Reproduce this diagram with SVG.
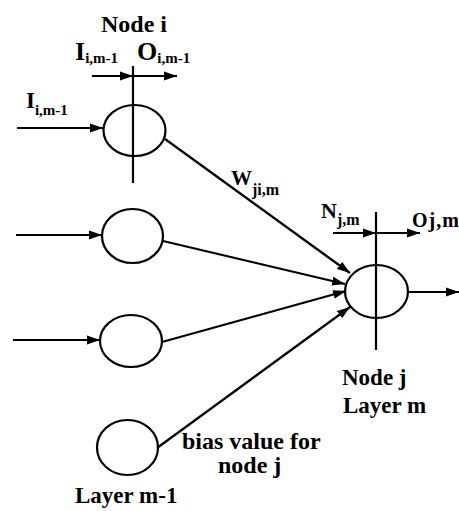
<svg xmlns="http://www.w3.org/2000/svg" width="459" height="511" viewBox="0 0 459 511">
  <defs>
    <marker id="arrow" markerUnits="userSpaceOnUse" markerWidth="14" markerHeight="10" refX="13" refY="5" orient="auto">
      <path d="M0,0.5 L13,5 L0,9.5 Z" fill="#000"/>
    </marker>
    <style>
      .neuron { fill: none; stroke: #000; stroke-width: 2.2; }
      .wire { fill: none; stroke: #000; stroke-width: 2.2; }
      .arrow { marker-end: url(#arrow); }
      .label { font-size: 24px; }
      .big { font-size: 26px; }
      .sub { font-size: 15px; }
    </style>
  </defs>
  <rect width="459" height="511" fill="#fff"/>

  <!-- connectors -->
  <g id="connectors">
    <!-- inputs into layer m-1 -->
    <line class="wire arrow" x1="17" y1="128" x2="103" y2="128"/>
    <line class="wire arrow" x1="16" y1="235" x2="102" y2="235"/>
    <line class="wire arrow" x1="13" y1="340" x2="100" y2="340"/>
    <!-- node i input/output markers -->
    <line class="wire" x1="133" y1="66" x2="133" y2="183"/>
    <line class="wire arrow" x1="92" y1="76" x2="133" y2="76"/>
    <line class="wire arrow" x1="134" y1="76" x2="177" y2="76"/>
    <!-- weighted links into node j -->
    <line class="wire arrow" x1="165" y1="139" x2="350" y2="273"/>
    <line class="wire arrow" x1="163" y1="241" x2="345" y2="284"/>
    <line class="wire arrow" x1="162" y1="342" x2="346" y2="291"/>
    <line class="wire arrow" x1="157" y1="448" x2="350" y2="307"/>
    <!-- node j input/output markers -->
    <line class="wire" x1="376" y1="212" x2="376" y2="350"/>
    <line class="wire arrow" x1="333" y1="233" x2="376" y2="233"/>
    <line class="wire arrow" x1="377" y1="233" x2="420" y2="233"/>
    <line class="wire arrow" x1="408" y1="292" x2="459" y2="292"/>
  </g>

  <g font-family="Liberation Serif" font-weight="bold" fill="#000">
    <!-- layer m-1 -->
    <g id="node-i">
      <ellipse class="neuron" cx="134.5" cy="130.5" rx="31" ry="25.5"/>
      <text class="label" x="101" y="32" font-size="25">Node i</text>
      <text x="75" y="60"><tspan class="big">I</tspan><tspan class="sub" dy="3">i,m-1</tspan></text>
      <text x="137" y="60"><tspan class="big">O</tspan><tspan class="sub" dy="3">i,m-1</tspan></text>
      <text x="26" y="108"><tspan font-size="23">I</tspan><tspan class="sub" dy="7">i,m-1</tspan></text>
    </g>
    <g id="node-2">
      <ellipse class="neuron" cx="132.5" cy="236" rx="30.5" ry="27"/>
    </g>
    <g id="node-3">
      <ellipse class="neuron" cx="131" cy="341" rx="31" ry="26"/>
    </g>
    <g id="node-bias">
      <ellipse class="neuron" cx="127.5" cy="447.5" rx="30.5" ry="27.5"/>
      <text class="label" x="182" y="449">bias value for</text>
      <text class="label" x="218" y="473">node j</text>
    </g>
    <text x="75" y="503" font-size="23">Layer m-1</text>

    <!-- weight label -->
    <text x="231" y="185"><tspan font-size="21">W</tspan><tspan font-size="16" dy="10">ji,m</tspan></text>

    <!-- layer m -->
    <g id="node-j">
      <ellipse class="neuron" cx="376.5" cy="291.5" rx="31.5" ry="26.5"/>
      <text x="321" y="218"><tspan font-size="22">N</tspan><tspan font-size="16" dy="7">j,m</tspan></text>
      <text x="412" y="227" font-size="20" letter-spacing="1">Oj,m</text>
      <text x="342" y="385" font-size="23">Node j</text>
      <text x="343" y="413" font-size="23">Layer m</text>
    </g>
  </g>
</svg>
